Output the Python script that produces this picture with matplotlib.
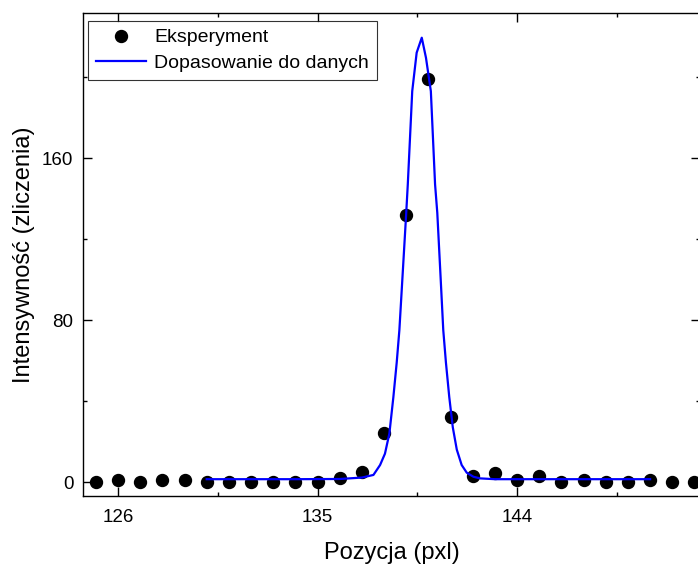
import matplotlib
matplotlib.use("Agg")
import matplotlib.pyplot as plt
from matplotlib.ticker import MultipleLocator

plt.rcParams["font.family"] = ["Liberation Sans", "DejaVu Sans"]

# measured points
pos = [125, 126, 127, 128, 129, 130, 131, 132, 133, 134, 135, 136, 137, 138,
       139, 140, 141, 142, 143, 144, 145, 146, 147, 148, 149, 150, 151, 152]
counts = [0, 0.8, 0, 0.8, 0.8, 0, 0, 0, 0, 0, 0, 2, 5, 24,
          132, 199, 32, 3, 4.3, 1, 3, 0.2, 1, 0.2, 0.2, 1, 0.2, 0.2]

# fitted curve
fit_x = [130.0, 134.0, 136.0, 137.0, 137.52, 137.82, 138.04, 138.24, 138.42,
         138.57, 138.69, 138.84, 139.0, 139.07, 139.27, 139.47, 139.70, 139.89,
         140.11, 140.30, 140.40, 140.55, 140.67, 140.79, 140.94, 141.10, 141.28,
         141.50, 141.73, 142.03, 142.33, 143.0, 150.0]
fit_y = [1.4, 1.4, 1.5, 2.2, 3.5, 8.4, 14, 24, 42,
         59, 75, 103, 133, 147, 193, 212, 219.4, 209.5,
         193, 147, 133, 101, 75, 59, 42, 27, 16,
         8.4, 4.6, 2.6, 1.8, 1.4, 1.4]

fig = plt.figure(figsize=(6.98, 5.64), dpi=100)
ax = fig.add_axes([83 / 698, 68 / 564, 617 / 698, 483 / 564])

ax.plot(pos, counts, "o", color="black", markersize=8.6, label="Eksperyment")
ax.plot(fit_x, fit_y, color="#0000FF", linewidth=1.6, label="Dopasowanie do danych")

ax.set_xlim(124.42, 152.25)
ax.set_ylim(-6.9, 231.6)
ax.xaxis.set_major_locator(MultipleLocator(9))
ax.xaxis.set_minor_locator(MultipleLocator(4.5))
ax.yaxis.set_major_locator(MultipleLocator(80))
ax.yaxis.set_minor_locator(MultipleLocator(40))
ax.tick_params(which="both", direction="in", top=True, right=True, width=1)
ax.tick_params(which="major", length=6.5, labelsize=13.5, pad=7)
ax.tick_params(axis="x", which="major", pad=9)
ax.tick_params(which="minor", length=3)
for s in ax.spines.values():
    s.set_linewidth(1)

ax.set_xlabel("Pozycja (pxl)", fontsize=17, labelpad=12)
ax.set_ylabel("Intensywność (zliczenia)", fontsize=17, labelpad=5)

leg = ax.legend(loc="upper left", bbox_to_anchor=(5 / 617, 1 - 8 / 483),
                fontsize=14, frameon=True, fancybox=False, edgecolor="black",
                borderaxespad=0, handlelength=2.6, handletextpad=0.4,
                borderpad=0.4, labelspacing=0.4)
leg.get_frame().set_linewidth(0.8)

fig.savefig("out.png", dpi=100)
